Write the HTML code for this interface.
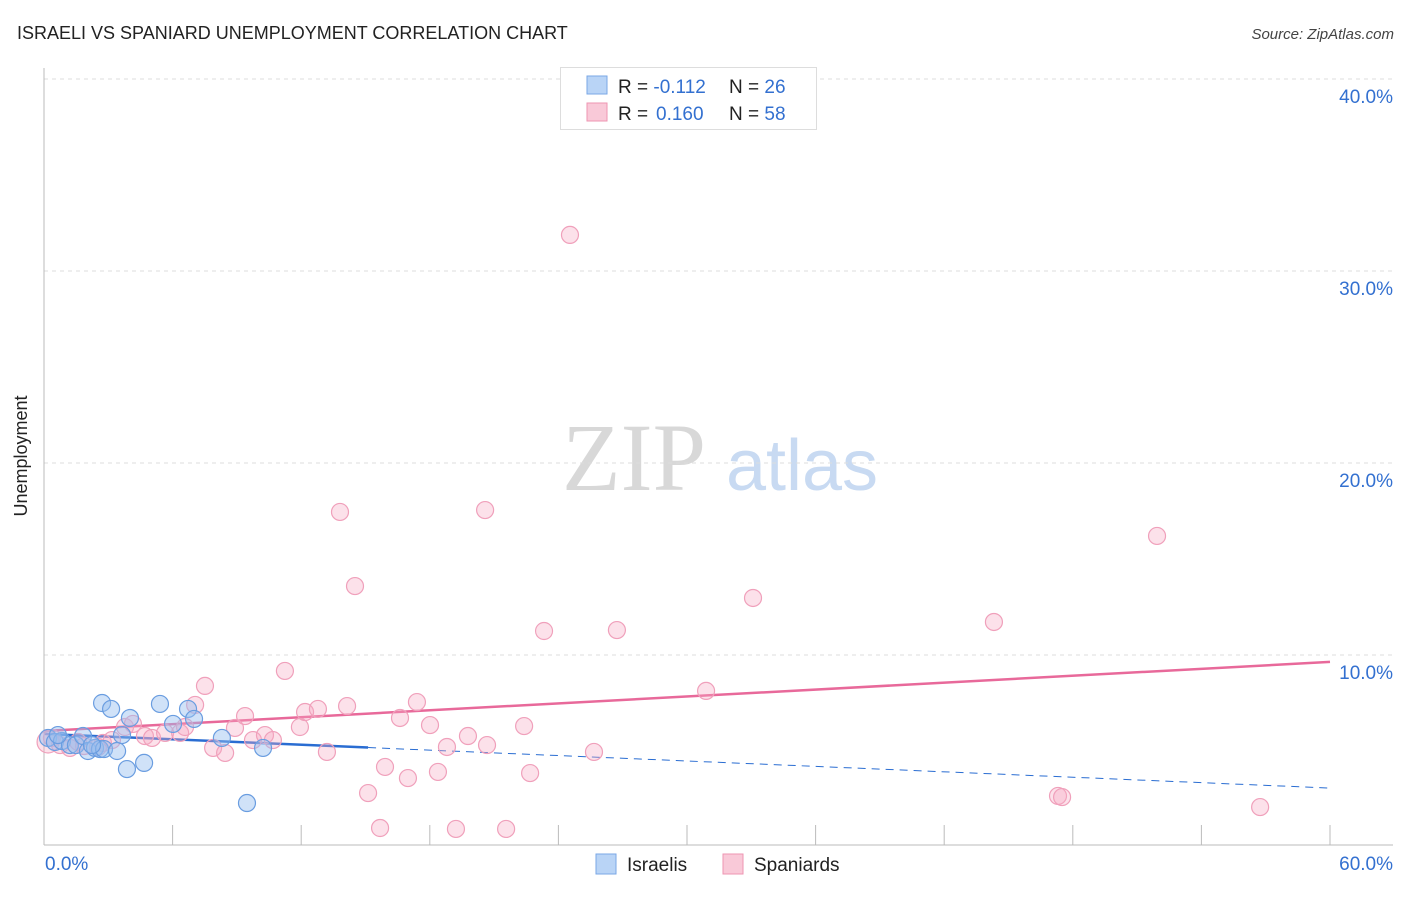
<!DOCTYPE html>
<html><head><meta charset="utf-8"><style>
body{margin:0;background:#fff;font-family:"Liberation Sans",sans-serif;}
svg text{font-family:"Liberation Sans",sans-serif;}
svg text.serif{font-family:"Liberation Serif",serif;}
</style></head><body>
<svg id="chart" width="1406" height="892" viewBox="0 0 1406 892" xmlns="http://www.w3.org/2000/svg">
<text x="17" y="39" font-size="18" fill="#222">ISRAELI VS SPANIARD UNEMPLOYMENT CORRELATION CHART</text>
<text x="1394" y="39" font-size="15" fill="#444" font-style="italic" text-anchor="end">Source: ZipAtlas.com</text>
<g>
<text class="serif" x="634" y="490" font-size="96" fill="#d8d8d8" text-anchor="middle">ZIP</text>
<text x="802" y="490" font-size="72" fill="#c8daf2" text-anchor="middle">atlas</text>
</g>
<g id="grid"></g>
<g id="axes"></g>
<g id="trends"></g>
<g id="pts"></g>
<text x="27" y="456" font-size="18" fill="#222" text-anchor="middle" transform="rotate(-90 27 456)">Unemployment</text>
<g>
<rect x="560.5" y="67.5" width="256" height="62" fill="#fff" stroke="#ddd"/>
<rect x="587" y="76" width="20" height="18" fill="#b9d4f6" stroke="#7aa7e6"/>
<rect x="587" y="103" width="20" height="18" fill="#f9c9d8" stroke="#ee95b2"/>
<text x="618" y="93" font-size="19" fill="#222">R = <tspan fill="#3370d0">-0.112</tspan><tspan x="729">N = </tspan><tspan fill="#3370d0">26</tspan></text>
<text x="618" y="120" font-size="19" fill="#222">R = <tspan fill="#3370d0" x="656">0.160</tspan><tspan x="729">N = </tspan><tspan fill="#3370d0">58</tspan></text>
</g>
<g>
<rect x="596" y="854" width="20" height="20" fill="#b9d4f6" stroke="#7aa7e6"/>
<text x="627" y="871" font-size="19" fill="#222">Israelis</text>
<rect x="723" y="854" width="20" height="20" fill="#f9c9d8" stroke="#ee95b2"/>
<text x="754" y="871" font-size="19" fill="#222">Spaniards</text>
</g>
</svg>
<script>
const yTicks=[10,20,30,40];
const yTickLabels=["10.0%","20.0%","30.0%","40.0%"];
const xEndLabels=["0.0%","60.0%"];
const isrX=[0.19,0.51,0.84,1.21,1.49,1.82,2.05,2.38,2.61,2.71,2.80,3.13,3.41,3.64,3.87,4.01,4.67,5.41,6.02,6.72,7.00,8.30,9.47,10.22,0.65,2.24];
const isrY=[5.68,5.47,5.52,5.31,5.31,5.78,5.0,5.16,5.10,7.5,5.10,7.19,5.0,5.83,4.06,6.72,4.38,7.45,6.41,7.19,6.67,5.68,2.29,5.16,5.83,5.31];
const spaX=[0.19,0.37,0.75,1.21,1.59,1.87,2.52,2.75,3.17,3.78,4.15,4.71,5.04,5.65,6.35,6.58,7.05,7.51,7.89,8.45,8.91,9.38,9.75,10.31,10.68,11.24,11.94,12.18,12.78,13.20,13.81,14.14,14.51,15.12,15.68,15.91,16.61,16.98,17.40,18.01,18.38,18.80,19.22,19.78,20.58,20.67,21.56,22.40,22.68,23.33,24.54,25.66,26.73,30.89,33.08,44.32,47.31,47.50,51.93,56.74];
const spaY=[5.47,5.68,5.31,5.16,5.47,5.26,5.21,5.42,5.57,6.25,6.41,5.78,5.68,5.94,5.94,6.25,7.40,8.39,5.16,4.90,6.20,6.82,5.57,5.83,5.57,9.17,6.25,7.03,7.19,4.95,17.45,7.34,13.59,2.81,0.99,4.17,6.72,3.59,7.55,6.35,3.91,5.21,0.94,5.78,17.55,5.31,0.94,6.30,3.85,11.25,31.88,4.95,11.30,8.13,12.97,11.72,2.66,2.60,16.20,2.08];
const pinkTrend=[6.04,9.64];
const blueTrend=[5.89,3.07];
const blueSolidEnd=15.12;
const NS="http://www.w3.org/2000/svg";
const xs=v=>44+v*1286/60;
const ys=v=>847-v*19.2;
function mk(tag,attrs,parent){const e=document.createElementNS(NS,tag);for(const k in attrs)e.setAttribute(k,attrs[k]);parent.appendChild(e);return e;}
const grid=document.getElementById('grid'),axes=document.getElementById('axes'),tr=document.getElementById('trends'),pts=document.getElementById('pts');
yTicks.forEach((t,i)=>{
 const l=mk('line',{x1:44,x2:1393,y1:ys(t),y2:ys(t),stroke:'#ddd','stroke-dasharray':'4,4'},grid);
 
 
 const tx=mk('text',{x:1393,y:ys(t)+24,'font-size':19,fill:'#3370d0','text-anchor':'end'},grid);
 tx.textContent=yTickLabels[i];
 
 
});
mk('line',{x1:44,x2:44,y1:68,y2:845,stroke:'#bbb'},axes);
mk('line',{x1:44,x2:1393,y1:845,y2:845,stroke:'#bbb'},axes);
for(let i=1;i<=10;i++){const t=mk('line',{x1:xs(i*6),x2:xs(i*6),y1:825,y2:845,stroke:'#bbb'},axes);
 
 }
const xl0=mk('text',{x:45,y:870,'font-size':19,fill:'#3370d0'},axes);xl0.textContent=xEndLabels[0];


const xl1=mk('text',{x:1393,y:870,'font-size':19,fill:'#3370d0','text-anchor':'end'},axes);xl1.textContent=xEndLabels[1];


spaX.forEach((x,i)=>{const c=mk('circle',{cx:xs(x),cy:ys(spaY[i]),r:i===0?11:8.5,fill:'rgba(246,170,196,0.35)',stroke:'#f0a0bb','stroke-width':1.2},pts);
 
 });
isrX.forEach((x,i)=>{const c=mk('circle',{cx:xs(x),cy:ys(isrY[i]),r:8.5,fill:'rgba(150,190,240,0.45)',stroke:'#6a9de0','stroke-width':1.2},pts);
 
 });
const p=mk('line',{x1:xs(0),y1:ys(pinkTrend[0]),x2:xs(60),y2:ys(pinkTrend[1]),stroke:'#e8699a','stroke-width':2.5},tr);


const by=x=>blueTrend[0]+(blueTrend[1]-blueTrend[0])*x/60;
const b1=mk('line',{x1:xs(0),y1:ys(by(0)),x2:xs(blueSolidEnd),y2:ys(by(blueSolidEnd)),stroke:'#2a6dd2','stroke-width':2.5},tr);


const b2=mk('line',{x1:xs(blueSolidEnd),y1:ys(by(blueSolidEnd)),x2:xs(60),y2:ys(by(60)),stroke:'#2a6dd2','stroke-width':1,'stroke-dasharray':'8,6'},tr);


</script>
</body></html>
